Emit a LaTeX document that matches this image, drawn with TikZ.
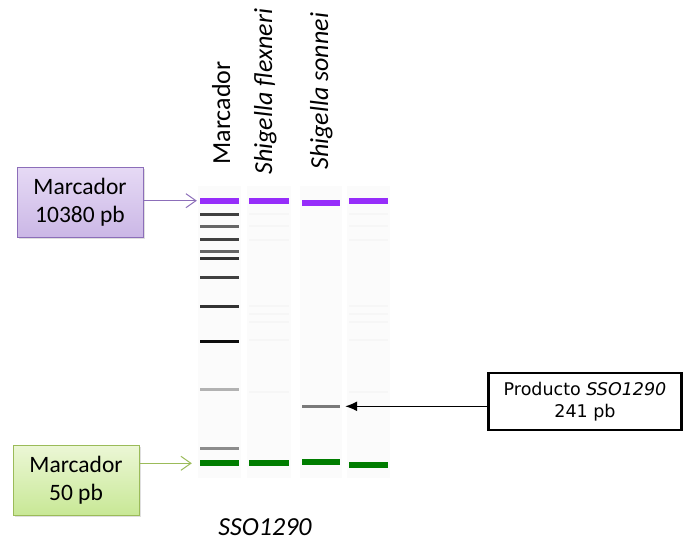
\documentclass[tikz,border=0pt]{standalone}
\usepackage{fontspec}
\setmainfont{Carlito}
\newfontfamily\labelfont{DejaVu Sans}
\usetikzlibrary{arrows.meta,shadows}

\definecolor{bandpurple}{RGB}{150,45,250}
\definecolor{bandgreen}{RGB}{0,125,0}
\definecolor{mkpurpleedge}{RGB}{140,110,185}
\definecolor{mkpurpletop}{RGB}{230,218,245}
\definecolor{mkpurplebot}{RGB}{203,183,230}
\definecolor{mkgreenedge}{RGB}{155,187,89}
\definecolor{mkgreentop}{RGB}{236,247,214}
\definecolor{mkgreenbot}{RGB}{200,232,150}

\tikzset{
  laneback/.style={fill=black!1.5, draw=none},
  band/.style={rectangle, inner sep=0pt, draw=none, fill=#1,
               minimum height=3pt},
  thickband/.style={band=#1, minimum height=6pt},
  ghost/.style={band=black!3.5, minimum height=2pt},
  markerbox/.style={rectangle, draw=#1edge, line width=1pt,
                    top color=#1top, bottom color=#1bot,
                    minimum width=126pt, minimum height=70pt,
                    align=center, font=\fontsize{23.5}{28}\selectfont,
                    drop shadow={opacity=0.25, shadow xshift=2pt, shadow yshift=-2pt}},
  lanelabel/.style={rotate=90, anchor=base west, font=\fontsize{26}{30}\selectfont},
  openarrow/.style={draw=#1, line width=1pt,
                    -{Straight Barb[length=10pt,width=14pt,line width=1pt]}},
}

\begin{document}
\begin{tikzpicture}[x=1pt,y=-1pt]
\useasboundingbox (0,0) rectangle (683,544);

% faint lane backgrounds
\fill[laneback] (198,186) rectangle (241,478);
\fill[laneback] (247,186) rectangle (291,478);
\fill[laneback] (300,186) rectangle (342,478);
\fill[laneback] (347,186) rectangle (390,478);

% lane headings
\node[lanelabel] (hM) at (230,168) {Marcador};
\node[lanelabel] (hF) at (272,178) {\itshape Shigella flexneri};
\node[lanelabel] (hS) at (328,173) {\itshape Shigella sonnei};

% lane 1: size marker ladder
\node[thickband=bandpurple, minimum width=39pt] (m1top) at (219.5,200.7) {};
\foreach \yy/\shade [count=\i] in {214.7/75, 226.3/60, 239.7/75, 251.3/60, 258.7/80,
                                   277/75, 306/80, 341.3/95, 389.7/30, 448.3/45}
  \node[band=black!\shade, minimum width=39pt] (m1b\i) at (219.5,\yy) {};
\node[thickband=bandgreen, minimum width=39pt] (m1bot) at (219.5,463.3) {};

% lane 2: Shigella flexneri
\node[thickband=bandpurple, minimum width=40pt] (l2top) at (269,201) {};
\foreach \yy [count=\i] in {214,226,240,306,314,322,340,392}
  \node[ghost, minimum width=40pt] (l2g\i) at (269,\yy) {};
\node[thickband=bandgreen, minimum width=40pt] (l2bot) at (269,463) {};

% lane 3: Shigella sonnei
\node[thickband=bandpurple, minimum width=38pt] (l3top) at (321,202.5) {};
\node[band=black!52, minimum width=38pt] (prod) at (321,406.3) {};
\node[thickband=bandgreen, minimum width=38pt] (l3bot) at (321,462.3) {};

% lane 4
\node[thickband=bandpurple, minimum width=39pt] (l4top) at (368.5,201) {};
\foreach \yy [count=\i] in {214,226,240,306,314,322,340,392}
  \node[ghost, minimum width=39pt] (l4g\i) at (368.5,\yy) {};
\node[thickband=bandgreen, minimum width=39pt] (l4bot) at (368.5,464.7) {};

% marker call-outs
\node[markerbox=mkpurple] (mkHigh) at (80,202) {Marcador\\10380 pb};
\node[markerbox=mkgreen]  (mkLow)  at (76,480) {Marcador\\50 pb};

\draw[openarrow=mkpurpleedge, shorten >=3pt] (m1top.west -| mkHigh.east) -- (m1top.west);
\draw[openarrow=mkgreenedge, shorten >=8pt] (m1bot.west -| mkLow.east) -- (m1bot.west);

% product call-out
\node[rectangle, draw=black, line width=2.5pt, fill=white,
      minimum width=193pt, minimum height=57pt, align=center,
      font=\labelfont\fontsize{17.5}{22}\selectfont] (pbox) at (585,401.5)
  {Producto \textit{SSO1290}\\241 pb};
\draw[line width=1.3pt, -{Latex[length=12pt,width=10pt]}, shorten >=5pt]
  (prod.east -| pbox.west) -- (prod.east);

% gene name under the gel
\node[anchor=base, font=\fontsize{26}{30}\selectfont\itshape] (gene) at (265,535) {SSO1290};
\end{tikzpicture}
\end{document}
